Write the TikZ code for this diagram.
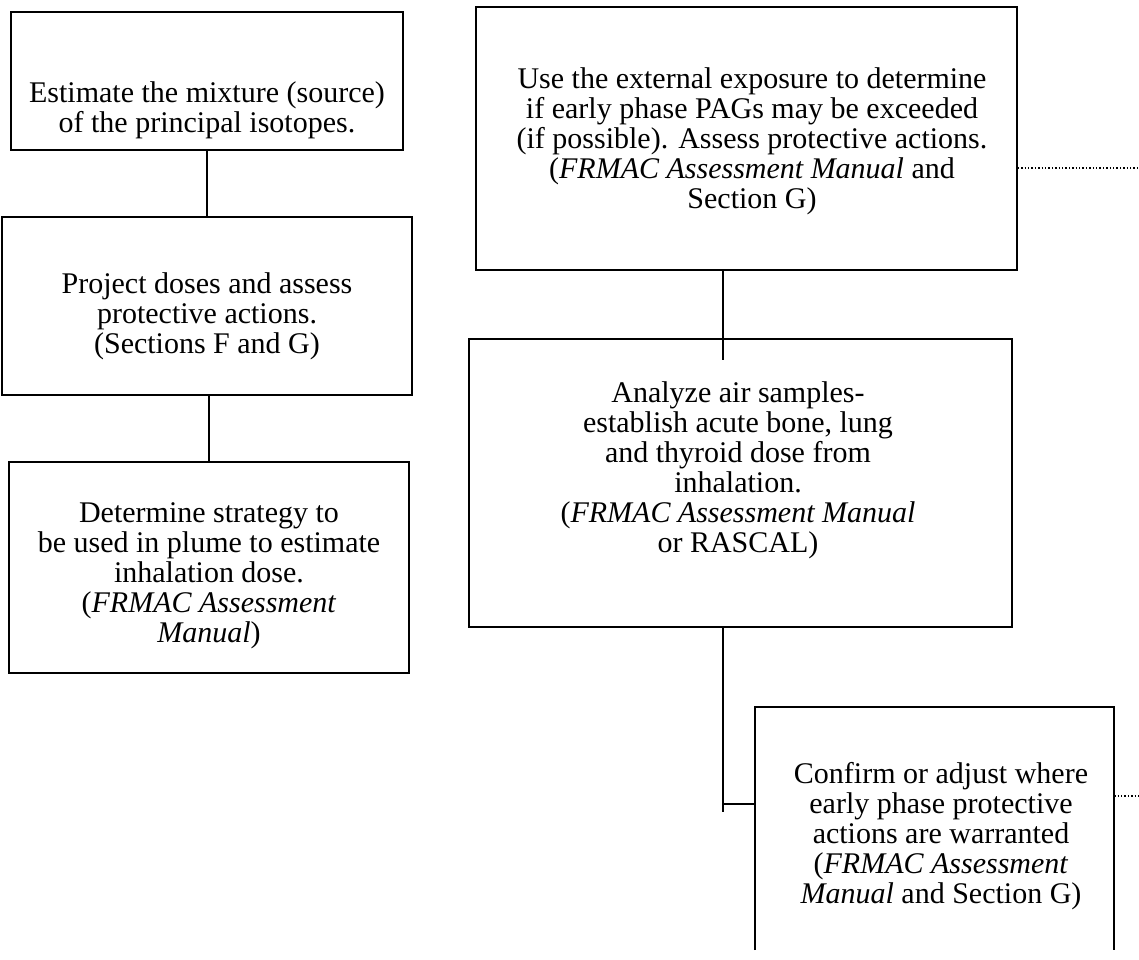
\documentclass[tikz,border=0pt]{standalone}
\usepackage{fontspec}
\setmainfont{Liberation Serif}
\begin{document}
\begin{tikzpicture}[x=1pt,y=-1pt,
  box/.style={draw, line width=1.6pt, inner sep=0pt},
  openbox/.style={inner sep=0pt},
  txt/.style={align=center, inner sep=0pt, font=\fontsize{30}{30}\selectfont},
  conn/.style={line width=1.5pt},
  dotline/.style={line width=1.4pt, dotted}]
\useasboundingbox (0,0) rectangle (1139,959);
% boxes
\node[box, minimum width=392pt, minimum height=138pt] (A) at (207,81) {};
\node[box, minimum width=410pt, minimum height=178pt] (B) at (207,306) {};
\node[box, minimum width=400pt, minimum height=211pt] (C) at (209,567.5) {};
\node[box, minimum width=541pt, minimum height=263pt] (D1) at (746.5,138.5) {};
\node[box, minimum width=543pt, minimum height=288pt] (D2) at (740.5,483) {};
\node[openbox, minimum width=359pt, minimum height=243pt] (E) at (934.5,828.5) {};
\draw[line width=1.6pt] (E.south west) -- (E.north west) -- (E.north east) -- (E.south east);
% texts
\node[txt] (At) at (207,110) {Estimate the mixture (source)\\of the principal isotopes.};
\node[txt] (Bt) at (207,316) {Project doses and assess\\protective actions.\\(Sections F and G)};
\node[txt] (Ct) at (209,576) {Determine strategy to\\be used in plume to estimate\\inhalation dose.\\(\textit{FRMAC Assessment}\\\textit{Manual})};
\node[txt] (D1t) at (752,141) {Use the external exposure to determine\\if early phase PAGs may be exceeded\\(if possible). Assess protective actions.\\(\textit{FRMAC Assessment Manual} and\\Section G)};
\node[txt] (D2t) at (738,470) {Analyze air samples-\\establish acute bone, lung\\and thyroid dose from\\inhalation.\\(\textit{FRMAC Assessment Manual}\\or RASCAL)};
\node[txt] (Et) at (941,836) {Confirm or adjust where\\early phase protective\\actions are warranted\\(\textit{FRMAC Assessment}\\\textit{Manual} and Section G)};
% connector coordinates
\coordinate (k) at (723,0);
\coordinate (stub) at (723,360);
\coordinate (elbow) at (723,812);
\coordinate (ej) at (723,804);
\coordinate (dotA) at (1139,168);
\coordinate (dotB) at (1139,796);
% connectors
\draw[conn] (A.south) -- (B.north);
\draw[conn] (C.north |- B.south) -- (C.north);
\draw[conn] (D1.south -| k) -- (stub);
\draw[conn] (D2.south -| k) -- (elbow);
\draw[conn] (ej) -- (ej -| E.west);
\draw[dotline] (dotA -| D1.east) -- (dotA);
\draw[dotline] (dotB -| E.east) -- (dotB);
\end{tikzpicture}
\end{document}
